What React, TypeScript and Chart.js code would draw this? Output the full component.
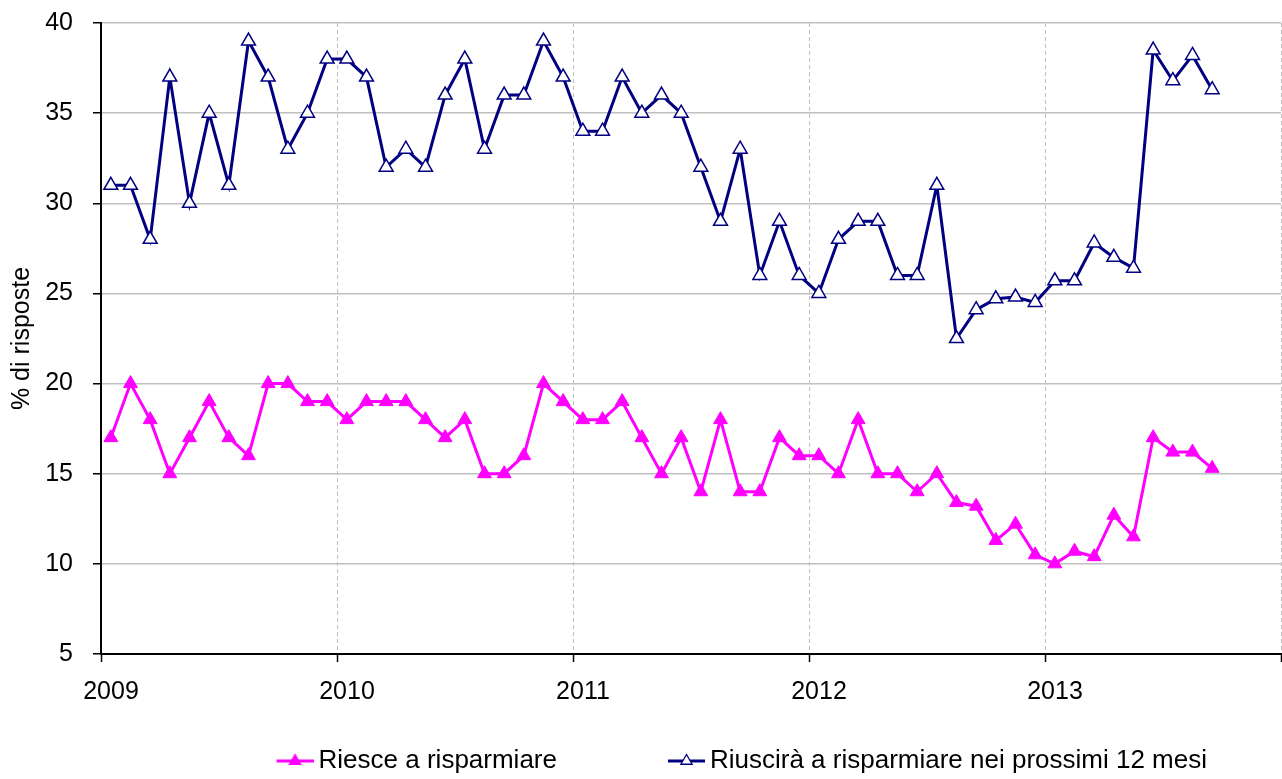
import React, { useEffect, useRef } from "react";
import { Chart, registerables } from "chart.js";

Chart.register(...registerables);

// ---- data ----
const months = [
  "2009-01","2009-02","2009-03","2009-04","2009-05","2009-06","2009-07","2009-08","2009-09","2009-10","2009-11","2009-12",
  "2010-01","2010-02","2010-03","2010-04","2010-05","2010-06","2010-07","2010-08","2010-09","2010-10","2010-11","2010-12",
  "2011-01","2011-02","2011-03","2011-04","2011-05","2011-06","2011-07","2011-08","2011-09","2011-10","2011-11","2011-12",
  "2012-01","2012-02","2012-03","2012-04","2012-05","2012-06","2012-07","2012-08","2012-09","2012-10","2012-11","2012-12",
  "2013-01","2013-02","2013-03","2013-04","2013-05","2013-06","2013-07","2013-08","2013-09",
];

const riesce = [
  17, 20, 18, 15, 17, 19, 17, 16, 20, 20, 19, 19,
  18, 19, 19, 19, 18, 17, 18, 15, 15, 16, 20, 19,
  18, 18, 19, 17, 15, 17, 14, 18, 14, 14, 17, 16,
  16, 15, 18, 15, 15, 14, 15, 13.4, 13.2, 11.3, 12.2, 10.5,
  10.0, 10.7, 10.4, 12.7, 11.5, 17.0, 16.2, 16.2, 15.3,
];

const riuscira = [
  31, 31, 28, 37, 30, 35, 31, 39, 37, 33, 35, 38,
  38, 37, 32, 33, 32, 36, 38, 33, 36, 36, 39, 37,
  34, 34, 37, 35, 36, 35, 32, 29, 33, 26, 29, 26,
  25, 28, 29, 29, 26, 26, 31, 22.5, 24.1, 24.7, 24.8, 24.5,
  25.7, 25.7, 27.8, 27.0, 26.4, 38.5, 36.8, 38.2, 36.3,
];

const yearLabels = ["2009", "2010", "2011", "2012", "2013", ""];
const firstYear = 2009;
const yMin = 5;
const yMax = 40;
const yStep = 5;

const seriesNames = ["Riesce a risparmiare", "Riuscirà a risparmiare nei prossimi 12 mesi"];
const yTitle = "% di risposte";

// month string -> position on the month axis (centre of the month)
const monthPos = (m: string) => {
  const [y, mo] = m.split("-").map(Number);
  return (y - firstYear) * 12 + (mo - 1) + 0.5;
};

const PINK = "#FF00FF";
const NAVY = "#000080";
const FONT = "'Liberation Sans', Arial, sans-serif";
const LEGEND_BOX = 66;

function legendImage(color: string, fill: string, lineWidth: number) {
  const w = LEGEND_BOX + 16;
  const h = 20;
  const c = document.createElement("canvas");
  c.width = w;
  c.height = h;
  const ctx = c.getContext("2d")!;
  const cy = h / 2;
  ctx.strokeStyle = color;
  ctx.lineWidth = lineWidth;
  ctx.beginPath();
  ctx.moveTo(w - 37, cy);
  ctx.lineTo(w, cy);
  ctx.stroke();
  const cx = w - 18.5;
  const r = 6.5;
  ctx.beginPath();
  for (let k = 0; k < 3; k++) {
    const a = (k * 2 * Math.PI) / 3;
    const px = cx + Math.sin(a) * r;
    const py = cy - Math.cos(a) * r;
    if (k === 0) ctx.moveTo(px, py);
    else ctx.lineTo(px, py);
  }
  ctx.closePath();
  ctx.fillStyle = fill;
  ctx.fill();
  ctx.lineWidth = 1.3;
  ctx.strokeStyle = color;
  ctx.stroke();
  return c;
}

export default function App() {
  const ref = useRef<HTMLCanvasElement | null>(null);

  useEffect(() => {
    document.body.style.margin = "0";
    const canvas = ref.current!;
    const imgs = [legendImage(PINK, PINK, 3), legendImage(NAVY, "#FFFFFF", 3)];

    const chart = new Chart(canvas, {
      type: "line",
      data: {
        datasets: [
          {
            label: seriesNames[0],
            data: months.map((m, i) => ({ x: monthPos(m), y: riesce[i] })),
            borderColor: PINK,
            backgroundColor: PINK,
            borderWidth: 3,
            pointStyle: "triangle",
            pointRadius: 8,
            pointBackgroundColor: PINK,
            pointBorderColor: PINK,
            pointBorderWidth: 1,
            tension: 0,
          },
          {
            label: seriesNames[1],
            data: months.map((m, i) => ({ x: monthPos(m), y: riuscira[i] })),
            borderColor: NAVY,
            backgroundColor: "#FFFFFF",
            borderWidth: 3,
            pointStyle: "triangle",
            pointRadius: 8,
            pointBackgroundColor: "#FFFFFF",
            pointBorderColor: NAVY,
            pointBorderWidth: 1.5,
            tension: 0,
          },
        ],
      },
      options: {
        animation: false,
        responsive: false,
        devicePixelRatio: 1,
        layout: { autoPadding: false, padding: { top: 23, left: 0, right: 1, bottom: -5 } },
        font: { family: FONT },
        color: "#000",
        plugins: {
          tooltip: { enabled: false },
          legend: {
            position: "bottom",
            align: "end",
            labels: {
              font: { family: FONT, size: 26 },
              color: "#000",
              padding: 74,
              usePointStyle: true,
              pointStyleWidth: LEGEND_BOX,
              generateLabels: (ch: any) => {
                const items = Chart.defaults.plugins.legend.labels.generateLabels(ch);
                return items.map((it: any, i: number) => ({ ...it, pointStyle: imgs[i] }));
              },
            },
          },
        },
        scales: {
          x: {
            type: "linear",
            min: 0,
            max: yearLabels.length * 12 - 12,
            afterFit: (s: any) => {
              s.height = 20;
              s.paddingLeft = 0;
              s.paddingRight = 0;
            },
            ticks: {
              stepSize: 12,
              autoSkip: false,
              maxRotation: 0,
              labelOffset: 10,
              mirror: true,
              padding: -53,
              color: "#000",
              font: { family: FONT, size: 25 },
              callback: (v: any) => yearLabels[Math.round(Number(v) / 12)] ?? "",
            },
            grid: {
              color: "#c0c0c0",
              lineWidth: 1,
              tickLength: 8,
              tickColor: "#000",
              tickWidth: 1.5,
              tickBorderDash: [],
            },
            border: { display: true, color: "#000", width: 2, dash: [4, 3] },
          },
          y: {
            min: yMin,
            max: yMax,
            afterFit: (s: any) => {
              s.width = 101;
            },
            ticks: {
              stepSize: yStep,
              padding: 20,
              color: "#000",
              font: { family: FONT, size: 25, lineHeight: 0.1 },
            },
            grid: {
              color: "#c0c0c0",
              lineWidth: 1.5,
              tickLength: 8,
              tickColor: "#000",
              tickWidth: 1.5,
            },
            border: { display: true, color: "#000", width: 2 },
            title: {
              display: true,
              text: yTitle,
              color: "#000",
              font: { family: FONT, size: 25 },
              padding: { top: 7, bottom: 8 },
            },
          },
        },
      },
    });
    return () => chart.destroy();
  }, []);

  return (
    <canvas
      ref={ref}
      width={1282}
      height={779}
      style={{ display: "block", width: 1282, height: 779 }}
    />
  );
}
